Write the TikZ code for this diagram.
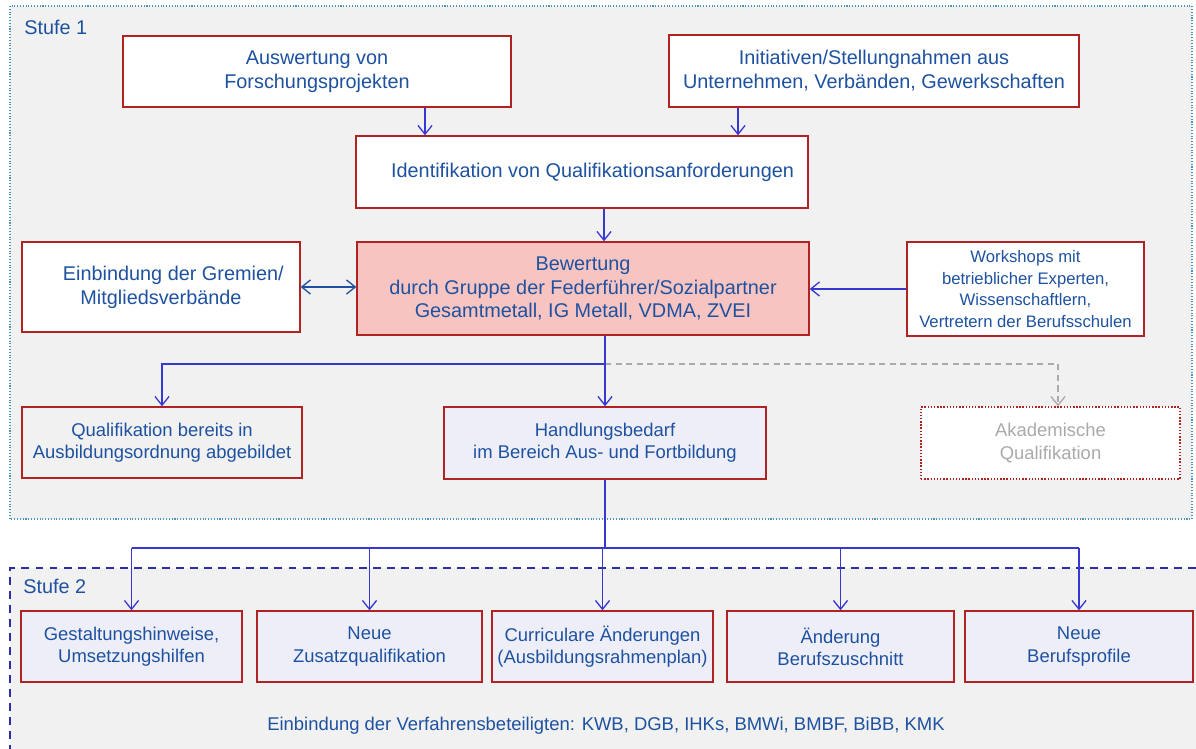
\documentclass[tikz,border=0pt]{standalone}
\usepackage{fontspec}
\setmainfont{Liberation Sans}
\usetikzlibrary{arrows.meta}

\definecolor{txtblue}{RGB}{30,82,160}
\definecolor{boxred}{RGB}{175,35,35}
\definecolor{arrblue}{RGB}{55,55,210}
\definecolor{bgray}{RGB}{241,241,241}
\definecolor{pinkfill}{RGB}{248,196,193}
\definecolor{lavfill}{RGB}{238,238,248}
\definecolor{dotblue}{RGB}{80,145,190}
\definecolor{dashblue}{RGB}{45,45,165}
\definecolor{lgray}{RGB}{170,170,170}

\begin{document}
\begin{tikzpicture}[x=0.02cm,y=-0.02cm,
	big/.style={font=\fontsize{11.3}{13.6}\selectfont},
	small/.style={font=\fontsize{10.5}{12.6}\selectfont},
	box/.style={draw=boxred,line width=0.8pt,fill=white,text=txtblue,align=center,inner sep=0pt},
	lowbox/.style={box,small,fill=lavfill,minimum width=#1,minimum height=1.42cm},
	arr/.style={draw=arrblue,line width=0.75pt,-{Straight Barb[length=5pt,width=8pt]}},
	grayarr/.style={draw=lgray,line width=0.75pt,dash pattern=on 3.5pt off 2.5pt,-{Straight Barb[length=5pt,width=8pt]}}]
	\useasboundingbox (0,0) rectangle (1196,749);
	
	% Stufe 1 / Stufe 2
	\draw[dotblue,densely dotted,line width=0.6pt,fill=bgray] (10,6) rectangle (1192,519);
	\fill[bgray] (10,568) rectangle (1196,749);
	\draw[dashblue,line width=0.9pt,dash pattern=on 4.5pt off 3.5pt] (1196,568) -- (10,568) -- (10,749);
	\node[big,text=txtblue,anchor=base west,inner sep=0pt] (st1) at (24,35) {Stufe 1};
	\node[big,text=txtblue,anchor=base west,inner sep=0pt] (st2) at (23,593) {Stufe 2};
	
	\node[box,big,minimum width=7.76cm,minimum height=1.42cm] (ausw) at (317,71.5) {Auswertung von\\Forschungsprojekten};
	\node[box,big,minimum width=8.2cm,minimum height=1.44cm] (init) at (874,71) {Initiativen/Stellungnahmen aus\\Unternehmen, Verbänden, Gewerkschaften};
	\node[box,big,minimum width=9.04cm,minimum height=1.44cm] (ident) at (582,172) {\hspace{12pt}Identifikation von Qualifikationsanforderungen};
	\node[box,big,fill=pinkfill,minimum width=9.04cm,minimum height=1.86cm] (bew) at (583,288.5) {Bewertung\\durch Gruppe der Federführer/Sozialpartner\\Gesamtmetall, IG Metall, VDMA, ZVEI};
	\node[box,big,minimum width=5.56cm,minimum height=1.8cm] (grem) at (161,287) {\hspace{14pt}Einbindung der Gremien/\\Mitgliedsverbände};
	\node[box,font=\fontsize{9.5}{12.3}\selectfont,minimum width=4.74cm,minimum height=1.88cm] (work) at (1025.5,289) {Workshops mit\\betrieblicher Experten,\\Wissenschaftlern,\\Vertretern der Berufsschulen};
	\node[box,small,fill=bgray,minimum width=5.6cm,minimum height=1.42cm] (quali) at (162,442.5) {Qualifikation bereits in\\Ausbildungsordnung abgebildet};
	\node[box,small,fill=lavfill,minimum width=6.44cm,minimum height=1.44cm] (handl) at (605,443) {Handlungsbedarf\\im Bereich Aus- und Fortbildung};
	\node[box,small,densely dotted,text=lgray,minimum width=5.18cm,minimum height=1.44cm] (akad) at (1050.5,443) {Akademische\\Qualifikation};
	
	\node[lowbox=4.42cm] (gest) at (131.5,646.5) {Gestaltungshinweise,\\Umsetzungshilfen};
	\node[lowbox=4.5cm] (zusatz) at (369.5,646.5) {Neue\\Zusatzqualifikation};
	\node[lowbox=4.42cm] (curr) at (602.5,646.5) {Curriculare Änderungen\\(Ausbildungsrahmenplan)};
	\node[lowbox=4.54cm] (aend) at (840.5,646.5) {Änderung\\Berufszuschnitt};
	\node[lowbox=4.56cm] (prof) at (1079,646.5) {Neue\\Berufsprofile};
	\node[small,text=txtblue,anchor=base,inner sep=0pt] (beteil) at (606,730) {Einbindung der Verfahrensbeteiligten: KWB, DGB, IHKs, BMWi, BMBF, BiBB, KMK};
	
	\coordinate (a1) at (425,0);
	\coordinate (a2) at (738,0);
	\coordinate (a3) at (604,0);
	\coordinate (a4) at (1058,0);
	\coordinate (split) at (605,364);
	\coordinate (fork) at (605,548);
	
	\draw[arr] (ausw.south -| a1) -- (ident.north -| a1);
	\draw[arr] (init.south -| a2) -- (ident.north -| a2);
	\draw[arr] (ident.south -| a3) -- (bew.north -| a3);
	\draw[arr,draw=txtblue,{Straight Barb[length=5pt,width=8pt]}-{Straight Barb[length=5pt,width=8pt]}] (grem.east) -- (grem.east -| bew.west);
	\draw[arr] (work.west) -- (work.west -| bew.east);
	\draw[grayarr] (split) -| (akad.north -| a4);
	\draw[arr] (bew.south -| handl.north) -- (handl.north);
	\draw[arr] (split) -| (quali.north);
	
	\draw[arrblue,line width=0.75pt] (handl.south) -- (fork);
	\draw[arrblue,line width=0.75pt] (fork -| gest.north) -- (fork -| prof.north);
	\foreach \n in {gest,zusatz,curr,aend,prof}
		\draw[arr] (fork -| \n.north) -- (\n.north);
\end{tikzpicture}
\end{document}
